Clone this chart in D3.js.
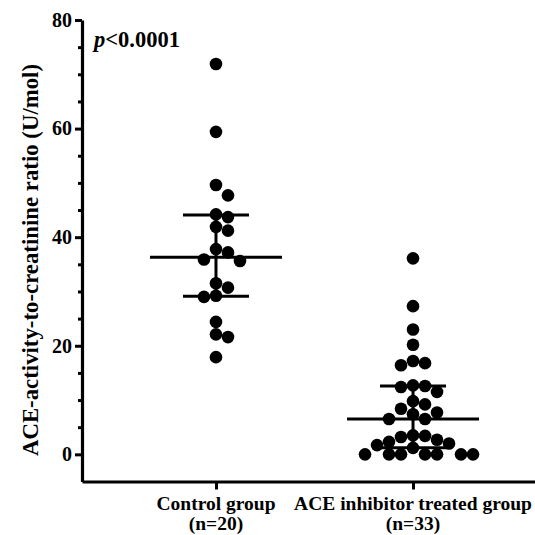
<!DOCTYPE html>
<html>
<head>
<meta charset="utf-8">
<script src="https://cdn.jsdelivr.net/npm/d3@7"></script>
<style>
  body { margin: 0; background: #fff; }
  text { font-family: "Liberation Serif", "Times New Roman", serif; font-weight: bold; }
</style>
</head>
<body>
<div id="chart"></div>
<script>
// data
var groups = ["Control group", "ACE inhibitor treated group"];
var groupN = ["(n=20)", "(n=33)"];

var controlValues = [71.9, 59.4, 49.6, 47.7, 44.2, 43.7, 41.9, 41.2, 37.8, 37.2,
                     35.9, 35.6, 31.5, 30.7, 29.2, 29.0, 24.4, 22.1, 21.6, 17.9];
var aceValues = [36.1, 27.3, 23.0, 20.2, 17.2, 16.8, 16.4, 12.7, 12.6, 12.4, 11.5,
                 9.8, 9.2, 8.4, 7.7, 7.4, 6.5, 6.5, 3.5, 3.4, 3.2, 2.7, 2.3, 2.0,
                 1.7, 1.2, 0, 0, 0, 0, 0, 0, 0];

var centerValues = [36.3, 6.5];
var upperValues = [44.1, 12.6];
var lowerValues = [29.1, 1.2];

var yTicks = [0, 20, 40, 60, 80];
var yMinorTicks = [5, 10, 15, 25, 30, 35, 45, 50, 55, 65, 70, 75];
var yLabel = "ACE-activity-to-creatinine ratio (U/mol)";

var width = 535, height = 535;

var svg = d3.select("#chart").append("svg")
    .attr("width", width)
    .attr("height", height);

var x = d3.scalePoint()
    .domain(groups)
    .range([82, 547])
    .padding(0.68);

var y = d3.scaleLinear()
    .domain([-5, 80])
    .range([481.5, 20]);

var r = 6.3, gap = 12;

// simple grid swarm: stack dots from the top, push sideways on overlap
function swarm(vals) {
    var placed = [];
    vals.slice().sort(function(a, b) { return b - a; }).forEach(function(v) {
        var py = y(v);
        for (var k = 0; k < 50; k++) {
            var col = k === 0 ? 0 : (k % 2 ? (k + 1) / 2 : -k / 2);
            var clash = placed.some(function(p) {
                return p.col === col && Math.abs(p.py - py) < gap;
            });
            if (!clash) { placed.push({v: v, py: py, col: col}); break; }
        }
    });
    return placed;
}

// axes
svg.append("g")
    .attr("transform", "translate(82,0)")
    .call(d3.axisLeft(y).tickValues(yMinorTicks).tickSize(4).tickSizeOuter(0).tickFormat(""))
    .call(function(g) { g.select(".domain").remove(); })
    .selectAll("line").attr("stroke-width", 3);

var yAxis = svg.append("g")
    .attr("transform", "translate(82,0)")
    .call(d3.axisLeft(y).tickValues(yTicks).tickSize(7).tickPadding(3).tickSizeOuter(0));
yAxis.select(".domain").attr("stroke-width", 3.2);
yAxis.selectAll("line").attr("stroke-width", 3);
yAxis.selectAll("text").attr("font-size", 20).attr("fill", "#000");

var xAxis = svg.append("g")
    .attr("transform", "translate(0,481.5)")
    .call(d3.axisBottom(x).tickSize(8).tickSizeOuter(0).tickFormat(""));
xAxis.select(".domain").attr("stroke-width", 3.2);
xAxis.selectAll("line").attr("stroke-width", 3);

// category labels
groups.forEach(function(g, i) {
    svg.append("text")
        .attr("x", x(g))
        .attr("y", 510)
        .attr("text-anchor", "middle")
        .attr("font-size", 19.5)
        .text(g);
    svg.append("text")
        .attr("x", x(g))
        .attr("y", 530)
        .attr("text-anchor", "middle")
        .attr("font-size", 19.5)
        .text(groupN[i]);
});

// y label
svg.append("text")
    .attr("transform", "translate(38,260) rotate(-90)")
    .attr("text-anchor", "middle")
    .attr("font-size", 22.8)
    .text(yLabel);

// p value
var pv = svg.append("text")
    .attr("x", 94)
    .attr("y", 47)
    .attr("font-size", 22.5);
pv.append("tspan").attr("font-style", "italic").text("p");
pv.append("tspan").text("<0.0001");

// dots
[controlValues, aceValues].forEach(function(vals, i) {
    var cx = x(groups[i]);
    svg.append("g")
        .selectAll("circle")
        .data(swarm(vals))
        .enter().append("circle")
        .attr("cx", function(d) { return cx + d.col * gap; })
        .attr("cy", function(d) { return y(d.v); })
        .attr("r", r)
        .style("fill", "#000");
});

// mean and error bars
groups.forEach(function(g, i) {
    var cx = x(g);
    var bars = svg.append("g").attr("stroke", "#000").attr("stroke-width", 3);
    bars.append("line")
        .attr("x1", cx - 66).attr("x2", cx + 66)
        .attr("y1", y(centerValues[i])).attr("y2", y(centerValues[i]));
    bars.append("line")
        .attr("x1", cx).attr("x2", cx)
        .attr("y1", y(lowerValues[i])).attr("y2", y(upperValues[i]));
    [upperValues[i], lowerValues[i]].forEach(function(v) {
        bars.append("line")
            .attr("x1", cx - 33).attr("x2", cx + 33)
            .attr("y1", y(v)).attr("y2", y(v));
    });
});
</script>
</body>
</html>
